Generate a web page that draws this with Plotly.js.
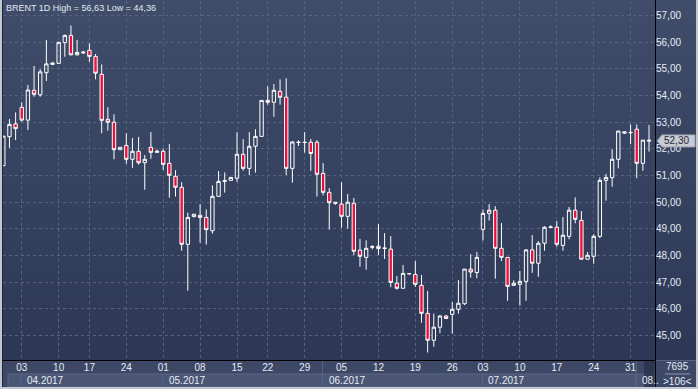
<!DOCTYPE html>
<html><head><meta charset="utf-8">
<script src="https://cdn.plot.ly/plotly-3.0.1.min.js"></script>
<style>
html,body{margin:0;padding:0;background:#3b4764;}
#chart{width:698px;height:389px;background:linear-gradient(180deg,#3f4d6a 0px,#2c3856 360px,#3c4866 361px,#3c4866 389px);}
</style></head><body><div id="chart"></div>
<script>
// ---- data ----
const opens  = [51.37,52.46,52.94,53.56,53.08,54.20,54.03,54.86,55.17,55.21,55.99,56.26,55.53,55.60,55.70,55.47,54.80,53.11,53.00,51.97,52.13,51.61,51.91,51.48,52.06,51.87,51.91,51.46,50.97,50.56,48.42,49.46,49.51,49.43,48.93,50.22,50.78,50.82,50.90,51.80,51.27,52.10,52.47,53.82,53.75,54.16,53.94,51.27,52.24,52.25,52.25,52.25,51.08,50.37,50.00,49.93,49.47,49.96,48.20,47.93,48.31,48.35,48.28,48.24,46.96,46.77,47.31,47.29,46.88,45.83,44.82,45.31,45.73,45.79,45.98,46.19,47.49,47.36,48.98,49.58,49.70,48.27,47.93,46.88,46.92,47.03,48.21,47.71,48.46,49.05,49.06,48.38,48.72,49.70,49.32,47.86,47.97,48.72,50.82,50.92,51.61,52.59,52.62,52.74,51.46,52.33];
const highs  = [52.48,53.12,53.37,53.75,54.40,55.11,54.99,56.09,55.26,56.02,56.29,56.63,56.09,55.68,55.96,55.56,55.17,53.56,53.30,52.06,52.59,52.41,52.45,51.77,52.63,51.98,52.01,52.18,51.20,50.75,49.61,49.55,49.93,49.73,50.63,51.17,51.12,50.93,52.63,52.37,52.63,52.74,53.82,54.35,54.43,54.61,54.65,52.29,52.32,52.63,52.37,52.33,51.47,50.53,50.01,50.75,50.31,50.16,48.62,48.57,48.39,49.18,48.84,48.73,47.23,47.64,47.34,47.79,47.27,46.67,45.82,45.77,45.77,46.26,47.08,47.49,48.05,48.13,49.73,49.93,49.85,49.22,47.93,47.07,47.42,48.24,48.77,48.54,49.10,49.13,49.29,49.44,49.82,50.18,49.67,48.13,48.80,50.93,51.06,51.99,52.67,52.65,52.92,52.92,52.33,52.90];
const lows   = [51.37,52.04,52.33,53.02,52.71,53.96,53.96,54.55,55.15,55.19,55.46,55.51,55.50,55.56,55.27,54.61,52.59,52.68,51.61,51.97,51.44,51.29,51.41,50.47,51.63,51.85,51.21,50.17,50.21,48.18,46.68,49.43,48.48,48.41,48.82,50.22,50.36,50.82,50.77,51.18,51.02,51.11,52.47,53.66,53.21,53.66,51.02,50.73,52.11,51.86,51.18,50.21,50.26,48.97,49.90,49.04,49.01,48.01,47.58,47.47,48.23,48.02,47.87,46.81,46.72,46.77,47.29,46.82,45.48,44.36,44.58,45.08,45.61,45.07,45.82,46.14,47.17,47.14,48.56,49.31,47.13,47.79,46.30,46.88,46.12,46.30,47.35,47.20,48.18,49.03,48.33,48.18,48.61,49.21,47.86,47.86,47.69,48.65,50.06,50.58,51.27,52.56,52.18,50.90,51.18,51.90];
const closes = [52.48,52.92,52.76,53.08,54.21,54.05,54.89,55.19,55.22,56.00,56.26,55.53,55.62,55.63,55.47,54.84,53.07,53.00,51.97,52.06,51.61,51.91,51.48,51.61,51.87,51.91,51.42,51.01,50.56,48.42,49.43,49.55,49.43,48.97,50.22,50.78,50.81,50.93,51.80,51.27,52.10,52.47,53.82,53.75,54.20,53.94,51.27,52.26,52.25,52.24,51.83,51.05,50.37,49.98,49.96,49.47,50.00,48.16,47.97,48.27,48.33,48.26,48.27,46.99,46.77,47.33,47.32,46.92,45.83,44.82,45.31,45.73,45.64,45.98,46.21,47.49,47.38,47.93,49.58,49.70,48.27,47.93,46.84,46.96,47.03,48.21,47.71,48.46,49.06,49.07,48.42,48.76,49.70,49.36,47.86,48.01,48.72,50.82,50.93,51.61,52.67,52.64,52.61,51.46,52.33,52.30];

const xTickIdx  = [3,9,14,20,26,32,38,43,49,55,61,67,73,78,84,90,96,102];
const xTickText = ["03","10","17","24","01","08","15","22","29","05","12","19","26","03","10","17","24","31"];
const yTickVals = [45,46,47,48,49,50,51,52,53,54,55,56,57];
const yTickText = ["45,00","46,00","47,00","48,00","49,00","50,00","51,00","52,00","53,00","54,00","55,00","56,00","57,00"];
const monthStart = [0,3,26,52,78,103];
const monthLabel = ["","04.2017","05.2017","06.2017","07.2017","08.."];
const lastPrice = 52.30, lastPriceText = "52,30";
const titleText = "BRENT 1D High = 56,63 Low = 44,36";
const volText = "7695", barsText = ">106<";

// ---- geometry ----
const W=698,H=389,ML=3,MR=43,MT=1,MB=29;
const PW=W-ML-MR, PH=H-MT-MB;
const XR=[-0.05,105.97], YR=[44.079,57.55];
const px=x=>(x-ML)/PW, py=y=>(H-MB-y)/PH;
const ix=i=>(i-XR[0])/(XR[1]-XR[0]);           // index -> paper
const vy=v=>(v-YR[0])/(YR[1]-YR[0]);           // price -> paper
const FONT='Liberation Sans, Arial, sans-serif';
const TXT='#e6ebf4';

const xs = opens.map((_,i)=>i);
const trace = {type:'candlestick', x:xs, open:opens, high:highs, low:lows, close:closes,
  increasing:{line:{color:'#ffffff',width:1}, fillcolor:'rgba(0,0,0,0)'},
  decreasing:{line:{color:'#ffffff',width:1}, fillcolor:'#ec0f3b'},
  whiskerwidth:0, hoverinfo:'skip', showlegend:false};

const shapes=[], ann=[];
// month bands
for(let k=0;k<monthStart.length;k++){
  let x0 = k===0 ? px(8) : ix(monthStart[k]-0.08);
  let x1 = k+1<monthStart.length ? ix(monthStart[k+1]-0.08) : 1;
  shapes.push({type:'rect',xref:'paper',yref:'paper',x0:x0,x1:x1,y0:py(387),y1:py(374),
    fillcolor:'#4a5674',line:{color:'#5a6683',width:1},layer:'above'});
  if(monthLabel[k]) ann.push({xref:'paper',yref:'paper',x:x0+px(7)-px(3),y:py(380.5),text:monthLabel[k],
    showarrow:false,xanchor:'left',yanchor:'middle',font:{family:FONT,size:10,color:TXT}});
}
// separators
[3,5].forEach(k=>{const x=ix(monthStart[k]-0.08);
  shapes.push({type:'line',xref:'paper',yref:'paper',x0:x,x1:x,y0:py(387),y1:py(361),line:{color:'#5a6683',width:1}});});
// dark scroll strip
shapes.push({type:'rect',xref:'paper',yref:'paper',x0:px(644),x1:px(654.5),y0:py(387),y1:py(361),
  fillcolor:'#2a344d',line:{width:0},opacity:0.85});
// black axis lines
shapes.push({type:'line',xref:'paper',yref:'paper',x0:px(0),x1:px(656),y0:py(360.5),y1:py(360.5),line:{color:'#000000',width:1}});
shapes.push({type:'line',xref:'paper',yref:'paper',x0:px(655.5),x1:px(655.5),y0:py(0),y1:py(387),line:{color:'#000000',width:1}});
shapes.push({type:'line',xref:'paper',yref:'paper',x0:px(656),x1:px(698),y0:py(360.5),y1:py(360.5),line:{color:'#56617c',width:1}});
shapes.push({type:'line',xref:'paper',yref:'paper',x0:px(2.5),x1:px(2.5),y0:py(0),y1:py(387),line:{color:'#1e2639',width:1}});
// outer frame
shapes.push({type:'rect',xref:'paper',yref:'paper',x0:px(0),x1:px(2),y0:py(389),y1:py(0),fillcolor:'#c3c7cf',line:{width:0}});
shapes.push({type:'rect',xref:'paper',yref:'paper',x0:px(0),x1:px(698),y0:py(389),y1:py(387),fillcolor:'#c3c7cf',line:{width:0}});
shapes.push({type:'rect',xref:'paper',yref:'paper',x0:px(696),x1:px(698),y0:py(389),y1:py(0),fillcolor:'#c3c7cf',line:{width:0}});
// volume box separator
shapes.push({type:'line',xref:'paper',yref:'paper',x0:px(665),x1:px(690),y0:py(374),y1:py(374),line:{color:'#8c96aa',width:1}});
// last price tag
{const yc=vy(lastPrice), hh=6/PH;
 shapes.push({type:'path',xref:'paper',yref:'paper',
  path:`M ${px(657)},${yc} L ${px(662)},${yc+hh} L ${px(695)},${yc+hh} L ${px(695)},${yc-hh} L ${px(662)},${yc-hh} Z`,
  fillcolor:'#c8cbd2',line:{color:'#9ea4ae',width:1}});
 ann.push({xref:'paper',yref:'paper',x:px(662),y:yc,text:lastPriceText,showarrow:false,xanchor:'left',yanchor:'middle',
  font:{family:FONT,size:10,color:'#1c2641'}});
}
ann.push({xref:'paper',yref:'paper',x:px(4),y:py(8),text:titleText,showarrow:false,xanchor:'left',yanchor:'middle',
  font:{family:FONT,size:9,color:'#e2e8f2'}});
ann.push({xref:'paper',yref:'paper',x:px(677),y:py(366.7),text:volText,showarrow:false,xanchor:'center',yanchor:'middle',
  font:{family:FONT,size:10,color:TXT}});
ann.push({xref:'paper',yref:'paper',x:px(677),y:py(381),text:barsText,showarrow:false,xanchor:'center',yanchor:'middle',
  font:{family:FONT,size:10,color:TXT}});

const layout={width:W,height:H,margin:{l:ML,r:MR,t:MT,b:MB,pad:0},boxgap:0.22,
  paper_bgcolor:'rgba(0,0,0,0)',plot_bgcolor:'rgba(0,0,0,0)',showlegend:false,hovermode:false,
  xaxis:{range:XR,tickmode:'array',tickvals:xTickIdx,ticktext:xTickText,showgrid:true,gridcolor:'#56637f',
    griddash:'3px,3px',gridwidth:1,zeroline:false,showline:false,ticks:'',
    tickfont:{family:FONT,size:10,color:TXT},rangeslider:{visible:false},fixedrange:true},
  yaxis:{side:'right',range:YR,tickmode:'array',tickvals:yTickVals,ticktext:yTickText,showgrid:true,gridcolor:'#56637f',
    griddash:'3px,3px',gridwidth:1,zeroline:false,showline:false,ticks:'',
    tickfont:{family:FONT,size:10,color:TXT},fixedrange:true},
  shapes:shapes,annotations:ann};
Plotly.newPlot('chart',[trace],layout,{displayModeBar:false,staticPlot:true});
</script></body></html>
